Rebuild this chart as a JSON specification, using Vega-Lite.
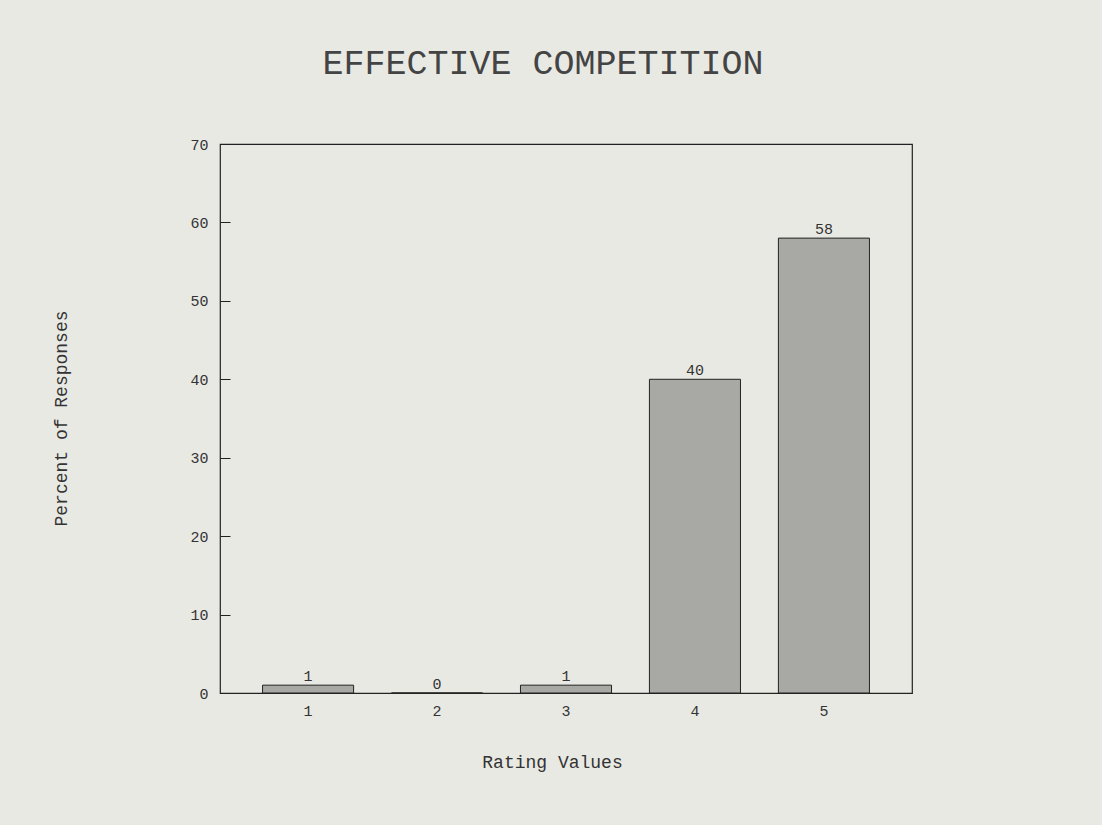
{
  "$schema": "https://vega.github.io/schema/vega-lite/v6.json",
  "width": 692,
  "height": 549,
  "autosize": {"type": "none"},
  "padding": {"left": 220, "top": 144, "right": 190, "bottom": 132},
  "background": "#e9e9e4",
  "title": {
    "text": "EFFECTIVE COMPETITION",
    "font": "Liberation Mono",
    "fontSize": 35,
    "fontWeight": "normal",
    "color": "#444444",
    "anchor": "middle",
    "baseline": "alphabetic",
    "dx": -23,
    "offset": 28
  },
  "config": {
    "view": {"stroke": "#222222", "strokeWidth": 1.2},
    "axis": {
      "labelFont": "Liberation Mono",
      "titleFont": "Liberation Mono",
      "labelFontSize": 15,
      "titleFontSize": 18,
      "labelColor": "#333333",
      "titleColor": "#333333",
      "titleFontWeight": "normal",
      "grid": false,
      "domainColor": "#222222",
      "tickColor": "#222222"
    }
  },
  "data": {
    "values": [
      {"rating": "1", "percent": 1},
      {"rating": "2", "percent": 0},
      {"rating": "3", "percent": 1},
      {"rating": "4", "percent": 40},
      {"rating": "5", "percent": 58}
    ]
  },
  "encoding": {
    "x": {
      "field": "rating",
      "type": "ordinal",
      "scale": {"paddingInner": 0.294, "paddingOuter": 0.33},
      "axis": {
        "title": "Rating Values",
        "labelAngle": 0,
        "ticks": false,
        "labelPadding": 10,
        "titleX": 332,
        "titleY": 69,
        "titleAlign": "center",
        "titleBaseline": "middle"
      }
    },
    "y": {
      "field": "percent",
      "type": "quantitative",
      "scale": {"domain": [0, 70], "nice": false},
      "axis": {
        "title": "Percent of Responses",
        "values": [0, 10, 20, 30, 40, 50, 60, 70],
        "offset": -10,
        "tickSize": 10,
        "domain": false,
        "labelPadding": 12,
        "titleX": -169,
        "titleY": 274,
        "titleAngle": -90,
        "titleAlign": "center",
        "titleBaseline": "middle"
      }
    }
  },
  "layer": [
    {
      "mark": {"type": "bar", "fill": "#a8a8a5", "stroke": "#222222", "strokeWidth": 1}
    },
    {
      "mark": {"type": "text", "baseline": "bottom", "dy": -1, "font": "Liberation Mono", "fontSize": 15, "color": "#333333"},
      "encoding": {"text": {"field": "percent", "type": "quantitative"}}
    }
  ]
}
